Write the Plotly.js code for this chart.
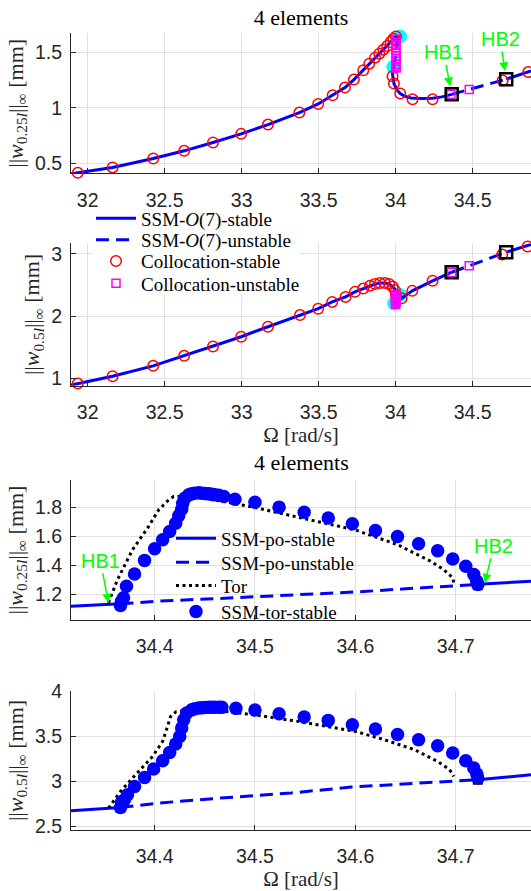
<!DOCTYPE html>
<html>
<head>
<meta charset="utf-8">
<script src="https://cdn.plot.ly/plotly-3.0.1.min.js"></script>
<style>html,body{margin:0;padding:0;background:#fff}#chart{width:531px;height:891px}</style>
</head>
<body>
<div id="chart"></div>
<script>
// ---------- Top: ||w_0.25l|| (plot 1) ----------
const p1StableAx = [31.892, 31.936, 32.162, 32.426, 32.627, 32.814, 32.997, 33.171, 33.375, 33.497, 33.591, 33.671, 33.729, 33.79, 33.829, 33.866, 33.894, 33.92, 33.945, 33.968, 33.985, 34.002, 34.028];
const p1StableAy = [0.405, 0.414, 0.463, 0.544, 0.613, 0.688, 0.766, 0.85, 0.958, 1.036, 1.114, 1.184, 1.256, 1.34, 1.4, 1.454, 1.49, 1.526, 1.559, 1.595, 1.625, 1.643, 1.646];
const p1UnstableBx = [34.028, 34.012, 34.005, 33.995, 33.985];
const p1UnstableBy = [1.646, 1.6, 1.5, 1.42, 1.369];
const p1StableCx = [33.985, 33.98, 33.989, 34.01, 34.03, 34.06, 34.1, 34.17, 34.24, 34.3, 34.364];
const p1StableCy = [1.369, 1.3, 1.22, 1.16, 1.13, 1.105, 1.09, 1.085, 1.088, 1.1, 1.123];
const p1UnstableDx = [34.364, 34.478, 34.6, 34.718];
const p1UnstableDy = [1.123, 1.166, 1.21, 1.26];
const p1StableEx = [34.718, 34.8, 34.879];
const p1StableEy = [1.26, 1.295, 1.335];
const p1ColStableX = [31.888, 31.936, 32.162, 32.426, 32.627, 32.814, 32.997, 33.171, 33.375, 33.497, 33.591, 33.671, 33.729, 33.79, 33.829, 33.866, 33.894, 33.92, 33.945, 33.968, 33.985, 34.002, 33.98, 33.989, 34.03, 34.11, 34.24, 34.695, 34.861];
const p1ColStableY = [0.403, 0.414, 0.463, 0.544, 0.613, 0.688, 0.766, 0.85, 0.958, 1.036, 1.114, 1.184, 1.256, 1.34, 1.4, 1.454, 1.49, 1.526, 1.559, 1.595, 1.625, 1.646, 1.286, 1.22, 1.13, 1.078, 1.078, 1.248, 1.324];
const p1ColUnstableX = [34.003, 34.003, 34.003, 34.003, 34.003, 34.003, 34.003, 34.003, 34.003, 34.003, 34.003, 34.003, 34.359, 34.478];
const p1ColUnstableY = [1.62, 1.595, 1.57, 1.545, 1.52, 1.495, 1.47, 1.445, 1.42, 1.395, 1.375, 1.36, 1.123, 1.166];
const p1FoldX = [34.028, 33.985];
const p1FoldY = [1.646, 1.369];
const p1HBx = [34.364, 34.718];
const p1HBy = [1.123, 1.26];

// ---------- ||w_0.5l|| (plot 2) ----------
const p2StableAx = [31.892, 31.936, 32.162, 32.426, 32.627, 32.814, 32.997, 33.171, 33.379, 33.497, 33.588, 33.675, 33.736, 33.79, 33.833, 33.866, 33.898, 33.93, 33.958, 33.98, 33.995, 34.01, 34.028];
const p2StableAy = [0.89, 0.914, 1.032, 1.199, 1.36, 1.511, 1.667, 1.828, 2.016, 2.12, 2.227, 2.31, 2.39, 2.442, 2.486, 2.514, 2.53, 2.53, 2.514, 2.475, 2.43, 2.39, 2.34];
const p2UnstableBx = [34.028, 34.015, 34.0, 33.99];
const p2UnstableBy = [2.34, 2.29, 2.24, 2.2];
const p2StableCx = [33.99, 34.0, 34.039, 34.108, 34.24, 34.364];
const p2StableCy = [2.2, 2.22, 2.287, 2.405, 2.567, 2.705];
const p2UnstableDx = [34.364, 34.478, 34.6, 34.718];
const p2UnstableDy = [2.705, 2.815, 2.92, 3.028];
const p2StableEx = [34.718, 34.8, 34.879];
const p2StableEy = [3.028, 3.09, 3.15];
const p2ColStableX = [31.888, 31.936, 32.162, 32.426, 32.627, 32.814, 32.997, 33.171, 33.379, 33.497, 33.588, 33.675, 33.736, 33.79, 33.833, 33.866, 33.898, 33.93, 33.958, 33.98, 33.995, 34.002, 34.039, 34.108, 34.24, 34.692, 34.857];
const p2ColStableY = [0.887, 0.914, 1.032, 1.199, 1.36, 1.511, 1.667, 1.828, 2.016, 2.118, 2.227, 2.308, 2.389, 2.442, 2.486, 2.514, 2.53, 2.53, 2.514, 2.475, 2.417, 2.34, 2.287, 2.405, 2.567, 2.989, 3.118];
const p2ColUnstableX = [34.0, 34.0, 34.0, 34.0, 34.0, 34.0, 34.0, 34.0, 34.364, 34.478];
const p2ColUnstableY = [2.34, 2.31, 2.28, 2.26, 2.24, 2.22, 2.2, 2.19, 2.702, 2.81];
const p2FoldX = [34.028, 33.99];
const p2FoldY = [2.34, 2.2];
const p2HBx = [34.364, 34.718];
const p2HBy = [2.705, 3.028];

// ---------- Bottom: torus branch ||w_0.25l|| (plot 3) ----------
const p3PoStableLx = [34.3167, 34.34, 34.366];
const p3PoStableLy = [1.117, 1.124, 1.133];
const p3PoUnstableX = [34.366, 34.405, 34.47, 34.54, 34.6, 34.65, 34.697, 34.722];
const p3PoUnstableY = [1.133, 1.152, 1.172, 1.195, 1.215, 1.237, 1.26, 1.268];
const p3PoStableRx = [34.722, 34.75, 34.775];
const p3PoStableRy = [1.268, 1.279, 1.29];
const p3TorX = [34.354, 34.363, 34.378, 34.393, 34.404, 34.414, 34.419, 34.437, 34.47, 34.5, 34.55, 34.6, 34.642, 34.675, 34.688, 34.697, 34.698];
const p3TorY = [1.14, 1.30, 1.508, 1.658, 1.784, 1.853, 1.876, 1.876, 1.841, 1.8, 1.722, 1.645, 1.543, 1.428, 1.37, 1.313, 1.279];
const p3TorSSMx = [34.366, 34.367, 34.369, 34.372, 34.38, 34.39, 34.4, 34.408, 34.415, 34.421, 34.424, 34.427, 34.428, 34.43, 34.434, 34.437, 34.44, 34.444, 34.447, 34.45, 34.454, 34.457, 34.46, 34.464, 34.469, 34.48, 34.5, 34.524, 34.549, 34.573, 34.597, 34.62, 34.642, 34.663, 34.682, 34.697, 34.71, 34.718, 34.721, 34.722];
const p3TorSSMy = [1.122, 1.15, 1.175, 1.255, 1.34, 1.434, 1.515, 1.577, 1.634, 1.692, 1.743, 1.789, 1.83, 1.865, 1.888, 1.895, 1.9, 1.902, 1.9, 1.898, 1.895, 1.892, 1.888, 1.885, 1.876, 1.858, 1.837, 1.803, 1.768, 1.727, 1.688, 1.641, 1.6, 1.55, 1.501, 1.444, 1.393, 1.336, 1.29, 1.267];
const p3HBx = [34.366, 34.722];
const p3HBy = [1.125, 1.262];

// ---------- ||w_0.5l|| (plot 4) ----------
const p4PoStableLx = [34.3167, 34.34, 34.366];
const p4PoStableLy = [2.676, 2.693, 2.712];
const p4PoUnstableX = [34.366, 34.404, 34.47, 34.536, 34.596, 34.65, 34.698, 34.722];
const p4PoUnstableY = [2.712, 2.761, 2.82, 2.872, 2.938, 2.97, 3.0, 3.019];
const p4PoStableRx = [34.722, 34.75, 34.775];
const p4PoStableRy = [3.019, 3.045, 3.074];
const p4TorX = [34.354, 34.366, 34.381, 34.398, 34.408, 34.413, 34.416, 34.421, 34.437, 34.47, 34.5, 34.543, 34.573, 34.6, 34.629, 34.659, 34.682, 34.694, 34.698];
const p4TorY = [2.706, 2.889, 3.074, 3.277, 3.442, 3.627, 3.719, 3.768, 3.793, 3.774, 3.735, 3.664, 3.608, 3.553, 3.461, 3.351, 3.221, 3.129, 3.055];
const p4TorSSMx = [34.366, 34.367, 34.37, 34.373, 34.38, 34.39, 34.399, 34.408, 34.415, 34.421, 34.425, 34.427, 34.429, 34.432, 34.437, 34.44, 34.444, 34.447, 34.45, 34.454, 34.457, 34.46, 34.464, 34.467, 34.481, 34.5, 34.524, 34.549, 34.573, 34.597, 34.62, 34.642, 34.663, 34.682, 34.697, 34.71, 34.718, 34.721, 34.722];
const p4TorSSMy = [2.712, 2.772, 2.798, 2.853, 2.945, 3.044, 3.137, 3.229, 3.321, 3.414, 3.498, 3.591, 3.682, 3.757, 3.793, 3.805, 3.812, 3.815, 3.817, 3.819, 3.82, 3.82, 3.82, 3.819, 3.808, 3.79, 3.749, 3.712, 3.675, 3.627, 3.58, 3.52, 3.461, 3.395, 3.314, 3.229, 3.148, 3.082, 3.038];
const p4HBx = [34.366, 34.722];
const p4HBy = [2.712, 3.019];

// ---------- axis ticks / labels ----------
const topXTicks = [32, 32.5, 33, 33.5, 34, 34.5];
const botXTicks = [34.4, 34.5, 34.6, 34.7];
const y1Ticks = [0.5, 1, 1.5];
const y2Ticks = [1, 2, 3];
const y3Ticks = [1.2, 1.4, 1.6, 1.8];
const y4Ticks = [2.5, 3, 3.5, 4];
const panelTitle = '4 elements';
const xTitle = 'Ω [rad/s]';
const yTitle025 = '||<i>w</i><sub>0.25<i>l</i></sub>||<sub>∞</sub> [mm]';
const yTitle05 = '||<i>w</i><sub>0.5<i>l</i></sub>||<sub>∞</sub> [mm]';
const legendTop = ['SSM-<i>O</i>(7)-stable', 'SSM-<i>O</i>(7)-unstable', 'Collocation-stable', 'Collocation-unstable'];
const legendBot = ['SSM-po-stable', 'SSM-po-unstable', 'Tor', 'SSM-tor-stable'];

// ---------- helpers ----------
function joinSeg(...segs) {
  const out = [];
  segs.forEach((s, i) => { if (i) out.push(null); out.push(...s); });
  return out;
}
const BLUE = '#0000ff';
const SANS = 'Liberation Sans, Arial, sans-serif';
const SERIF = 'Liberation Serif, Times New Roman, serif';
const DASH = '13px,7px';
const TORDASH = '3px,3.5px';

function line(x, y, xa, ya, dash, name, show, leg, color) {
  return {type: 'scatter', mode: 'lines', x, y, xaxis: xa, yaxis: ya, name,
    showlegend: show, legend: leg,
    line: {color: color || BLUE, width: 3, dash: dash}, hoverinfo: 'x+y'};
}
function markers(x, y, xa, ya, marker, name, show, leg) {
  return {type: 'scatter', mode: 'markers', x, y, xaxis: xa, yaxis: ya, name,
    showlegend: show, legend: leg || 'legend', marker, cliponaxis: false};
}

const cyanM = {symbol: 'circle', size: 14, color: '#00ffff'};
const redM = {symbol: 'circle-open', size: 10.5, color: '#ff0000', line: {width: 1.5, color: '#ff0000'}};
const magM = {symbol: 'square-open', size: 8, color: '#ff00ff', line: {width: 1.5, color: '#ff00ff'}};
const hbOpenM = {symbol: 'square-open', size: 12, color: '#000', line: {width: 2.5, color: '#000'}};
const hbFillM = {symbol: 'square', size: 10, color: '#000'};
const torM = {symbol: 'circle', size: 13.5, color: BLUE};

const traces = [
  // plot 1
  markers(p1FoldX, p1FoldY, 'x', 'y', cyanM, 'SN', false),
  line(joinSeg(p1StableAx, p1StableCx, p1StableEx), joinSeg(p1StableAy, p1StableCy, p1StableEy), 'x', 'y', 'solid', legendTop[0], true, 'legend'),
  line(joinSeg(p1UnstableBx, p1UnstableDx), joinSeg(p1UnstableBy, p1UnstableDy), 'x', 'y', DASH, legendTop[1], true, 'legend2'),
  markers(p1ColStableX, p1ColStableY, 'x', 'y', redM, legendTop[2], true, 'legend3'),
  markers(p1ColUnstableX, p1ColUnstableY, 'x', 'y', magM, legendTop[3], true, 'legend4'),
  markers(p1HBx, p1HBy, 'x', 'y', hbOpenM, 'HB', false),
  // plot 2
  markers(p2FoldX, p2FoldY, 'x2', 'y2', cyanM, 'SN', false),
  line(joinSeg(p2StableAx, p2StableCx, p2StableEx), joinSeg(p2StableAy, p2StableCy, p2StableEy), 'x2', 'y2', 'solid', legendTop[0], false, 'legend'),
  line(joinSeg(p2UnstableBx, p2UnstableDx), joinSeg(p2UnstableBy, p2UnstableDy), 'x2', 'y2', DASH, legendTop[1], false, 'legend2'),
  markers(p2ColStableX, p2ColStableY, 'x2', 'y2', redM, legendTop[2], false, 'legend3'),
  markers(p2ColUnstableX, p2ColUnstableY, 'x2', 'y2', magM, legendTop[3], false, 'legend4'),
  markers(p2HBx, p2HBy, 'x2', 'y2', hbOpenM, 'HB', false),
  // plot 3
  line(joinSeg(p3PoStableLx, p3PoStableRx), joinSeg(p3PoStableLy, p3PoStableRy), 'x3', 'y3', 'solid', legendBot[0], true, 'legend5'),
  line(p3PoUnstableX, p3PoUnstableY, 'x3', 'y3', DASH, legendBot[1], true, 'legend6'),
  line(p3TorX, p3TorY, 'x3', 'y3', TORDASH, legendBot[2], true, 'legend7', '#000'),
  markers(p3HBx, p3HBy, 'x3', 'y3', hbFillM, 'HB', false),
  markers(p3TorSSMx, p3TorSSMy, 'x3', 'y3', torM, legendBot[3], true, 'legend8'),
  // plot 4
  line(joinSeg(p4PoStableLx, p4PoStableRx), joinSeg(p4PoStableLy, p4PoStableRy), 'x4', 'y4', 'solid', legendBot[0], false, 'legend5'),
  line(p4PoUnstableX, p4PoUnstableY, 'x4', 'y4', DASH, legendBot[1], false, 'legend6'),
  line(p4TorX, p4TorY, 'x4', 'y4', TORDASH, legendBot[2], false, 'legend7', '#000'),
  markers(p4HBx, p4HBy, 'x4', 'y4', hbFillM, 'HB', false),
  markers(p4TorSSMx, p4TorSSMy, 'x4', 'y4', torM, legendBot[3], false, 'legend8')
];

const W = 531, H = 891;
const px = v => v / W;
const py = v => 1 - v / H;

function xAxis(anchor, range, ticks, title) {
  const a = {anchor, range, tickvals: ticks, domain: [px(71), 1],
    showgrid: true, gridcolor: '#e2e2e2', gridwidth: 1, zeroline: false,
    showline: true, linecolor: '#262626', linewidth: 1, mirror: false,
    ticks: 'inside', ticklen: 5, tickwidth: 1, tickcolor: '#262626',
    tickfont: {family: SANS, size: 19.5, color: '#262626'}, ticklabelstandoff: 9,
    automargin: false, fixedrange: true};
  if (title) a.title = {text: title, font: {family: SERIF, size: 21, color: '#262626'}, standoff: 0};
  return a;
}
function yAxis(anchor, range, ticks, domain, title) {
  return {anchor, range, tickvals: ticks, domain,
    showgrid: true, gridcolor: '#e2e2e2', gridwidth: 1, zeroline: false,
    showline: true, linecolor: '#262626', linewidth: 1, mirror: false,
    ticks: 'inside', ticklen: 5, tickwidth: 1, tickcolor: '#262626',
    tickfont: {family: SANS, size: 19.5, color: '#262626'}, ticklabelstandoff: 4,
    title: {text: title, font: {family: SERIF, size: 22, color: '#262626'}, standoff: 5},
    automargin: false, fixedrange: true};
}

function hb(text, xa, ya, x, y, ax, ay, standoff) {
  return {text, xref: xa, yref: ya, x, y, ax, ay, showarrow: true,
    arrowhead: 2, arrowsize: 1.2, arrowwidth: 1.5, arrowcolor: '#00ff00', standoff,
    font: {family: SANS, size: 20, color: '#00ff00'}};
}
function legendAt(xPx, yPx) {
  return {x: px(xPx), y: py(yPx), xanchor: 'left', yanchor: 'middle', bgcolor: 'rgba(0,0,0,0)', borderwidth: 0,
    font: {family: SERIF, size: 19, color: '#000'}, itemwidth: 40, tracegroupgap: 0};
}

const topRows = [218.5, 239.8, 261.2, 283.3];
const botRows = [538.3, 562.3, 585.7, 611.7];

const layout = {
  width: W, height: H,
  margin: {l: 0, r: 0, t: 0, b: 0},
  paper_bgcolor: '#fff', plot_bgcolor: '#fff',
  title: {text: panelTitle, font: {family: SERIF, size: 22, color: '#000'},
    xref: 'paper', yref: 'paper', x: px(301), y: py(17), xanchor: 'center', yanchor: 'middle'},
  xaxis: xAxis('y', [31.892, 34.879], topXTicks, null),
  yaxis: yAxis('x', [0.41, 1.674], y1Ticks, [py(173.3), py(33.3)], yTitle025),
  xaxis2: xAxis('y2', [31.892, 34.879], topXTicks, xTitle),
  yaxis2: yAxis('x2', [0.88, 3.17], y2Ticks, [py(385.7), py(243.3)], yTitle05),
  xaxis3: xAxis('y3', [34.3167, 34.775], botXTicks, null),
  yaxis3: yAxis('x3', [1.021, 1.991], y3Ticks, [py(620), py(480)], yTitle025),
  xaxis4: xAxis('y4', [34.3167, 34.775], botXTicks, xTitle),
  yaxis4: yAxis('x4', [2.463, 4.0], y4Ticks, [py(830), py(691)], yTitle05),
  legend: legendAt(91, topRows[0]),
  legend2: legendAt(91, topRows[1]),
  legend3: legendAt(91, topRows[2]),
  legend4: legendAt(91, topRows[3]),
  legend5: legendAt(171, botRows[0]),
  legend6: legendAt(171, botRows[1]),
  legend7: legendAt(171, botRows[2]),
  legend8: legendAt(171, botRows[3]),
  shapes: [
    // white legend box of the upper legend (hides grid of panel 2 behind it)
    {type: 'rect', xref: 'paper', yref: 'paper', x0: px(93), x1: px(300), y0: py(294), y1: py(243.3),
      fillcolor: '#fff', line: {width: 0}, layer: 'above'}
  ],
  annotations: [
    {text: panelTitle, xref: 'paper', yref: 'paper', x: px(301), y: py(463), xanchor: 'center', yanchor: 'middle',
      showarrow: false, font: {family: SERIF, size: 22, color: '#000'}},
    hb('HB1', 'x', 'y', p1HBx[0], p1HBy[0], -8, -42, 8),
    hb('HB2', 'x', 'y', p1HBx[1], p1HBy[1], -6, -40, 8),
    hb('HB1', 'x3', 'y3', 34.354, 1.14, -8, -42, 0),
    hb('HB2', 'x3', 'y3', 34.729, 1.278, 9, -37, 0)
  ],
  showlegend: true
};

Plotly.newPlot('chart', traces, layout, {staticPlot: true, displayModeBar: false});
</script>
</body>
</html>
